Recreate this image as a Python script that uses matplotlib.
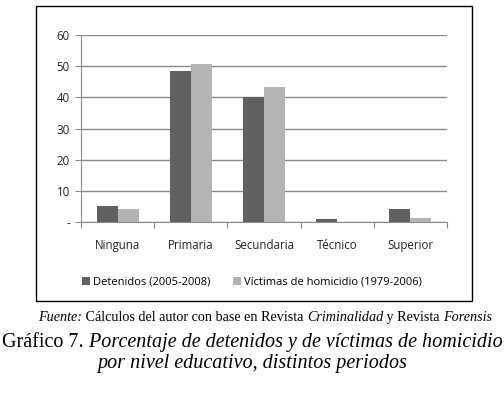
import matplotlib
matplotlib.use('Agg')
import matplotlib.pyplot as plt
from matplotlib.patches import Rectangle
from matplotlib.text import Annotation
import numpy as np

# data
niveles = ['Ninguna', 'Primaria', 'Secundaria', 'Técnico', 'Superior']
detenidos = [5.2, 48.5, 40.1, 1.0, 4.1]
victimas = [4.1, 50.8, 43.4, 0.0, 1.4]
series_labels = ['Detenidos (2005-2008)', 'Víctimas de homicidio (1979-2006)']
yticks = [0, 10, 20, 30, 40, 50, 60]
ytick_labels = ['-', '10', '20', '30', '40', '50', '60']

W, H = 504, 395
fig = plt.figure(figsize=(W / 100, H / 100), dpi=100)
fig.patch.set_facecolor('white')

# outer chart box
fig.add_artist(Rectangle((36 / W, 1 - 301 / H), 436 / W, 295 / H,
                         transform=fig.transFigure, fill=False,
                         edgecolor='black', linewidth=1.0))

ax = fig.add_axes([81 / W, 1 - 222 / H, 366 / W, 187 / H])
x = np.arange(len(niveles))
bw = 0.287
b1 = ax.bar(x - bw / 2, detenidos, bw, color='#606060', zorder=3)
b2 = ax.bar(x + bw / 2, victimas, bw, color='#b3b3b3', zorder=3)

ax.set_xlim(-0.5, len(niveles) - 0.5)
ax.set_ylim(0, 60)
ax.set_yticks(yticks)
ax.set_yticklabels(ytick_labels)
ax.yaxis.grid(True, color='#8c8c8c', linewidth=1.0, zorder=0)
ax.set_axisbelow(True)

for s in ['top', 'right']:
    ax.spines[s].set_visible(False)
for s in ['left', 'bottom']:
    ax.spines[s].set_color('#8c8c8c')

# ticks at category boundaries, labels at centres
ax.set_xticks(np.arange(-0.5, len(niveles)))
ax.set_xticklabels([])
ax.set_xticks(x, minor=True)
ax.set_xticklabels(niveles, minor=True, fontsize=8.3, family='Open Sans', color='#222222')
ax.tick_params(axis='x', which='major', length=4, color='#8c8c8c')
ax.tick_params(axis='x', which='minor', length=0, pad=12)
ax.tick_params(axis='y', length=4, color='#8c8c8c', pad=4)
for t in ax.get_yticklabels():
    t.set_fontsize(8.3)
    t.set_family('Open Sans')
    t.set_color('#222222')

fig.legend([b1, b2], series_labels, loc='center', bbox_to_anchor=(252 / W, 1 - 282 / H),
           ncol=2, frameon=False, handlelength=0.7, handleheight=0.7,
           handletextpad=0.3, columnspacing=2.0,
           prop={'family': 'Open Sans', 'size': 8})

# source line (mixed italic / regular)
serif = 'Liberation Serif'
parts = [('Fuente:', 'italic'), (' Cálculos del autor con base en Revista ', 'normal'),
         ('Criminalidad', 'italic'), (' y Revista ', 'normal'), ('Forensis', 'italic')]
prev = fig.text(38 / W, 1 - 321 / H, parts[0][0], fontsize=10.2, family=serif,
                style=parts[0][1], va='baseline', ha='left')
for txt, st in parts[1:]:
    prev = fig.add_artist(Annotation(txt, xy=(1, 0), xycoords=prev, va='bottom',
                                     ha='left', fontsize=10.2, family=serif, style=st))

# caption title
g = fig.text(2 / W, 1 - 347 / H, 'Gráfico 7.', fontsize=14.5, family=serif,
             va='baseline', ha='left')
fig.add_artist(Annotation(' Porcentaje de detenidos y de víctimas de homicidio',
                          xy=(1, 0), xycoords=g, va='bottom', ha='left',
                          fontsize=14.5, family=serif, style='italic'))
fig.text(252 / W, 1 - 368 / H, 'por nivel educativo, distintos periodos',
         fontsize=14.5, family=serif, style='italic', va='baseline', ha='center')

fig.savefig('out.png', dpi=100)
